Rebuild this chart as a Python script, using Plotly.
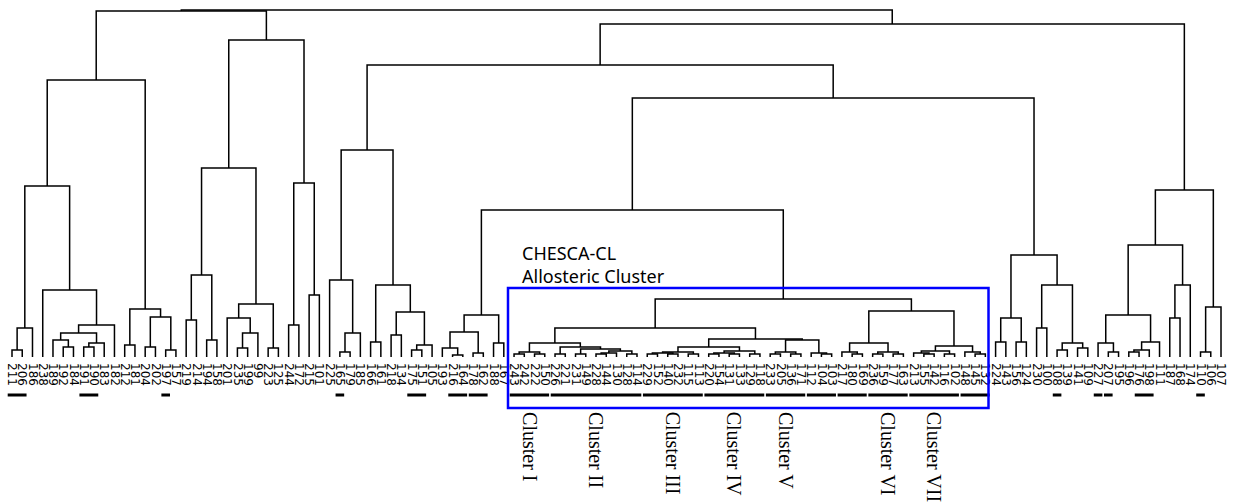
import plotly.graph_objects as go

# ---------------- data ----------------
leaf_labels = [
    "211", "206", "186", "238", "189", "192", "184", "191", "190", "183",
    "182", "212", "181", "204", "202", "197", "157", "219", "214", "194",
    "158", "201", "235", "199", "99", "223", "125", "244", "172", "215",
    "101", "225", "165", "179", "185", "166", "161", "218", "134", "175",
    "151", "105", "193", "216", "164", "178", "162", "188", "167", "243",
    "242", "222", "150", "226", "221", "231", "149", "228", "144", "130",
    "128", "114", "229", "152", "140", "232", "115", "113", "220", "154",
    "131", "133", "129", "118", "233", "205", "136", "171", "112", "104",
    "103", "217", "180", "169", "236", "159", "177", "163", "213", "155",
    "142", "116", "102", "148", "145", "132", "224", "143", "156", "124",
    "230", "100", "108", "139", "141", "109", "227", "207", "195", "196",
    "176", "198", "111", "187", "168", "174", "110", "106", "107",
]

# merges (children before parents); heights in dendrogram distance units
node_names = [
    # group A
    "n1", "n2", "a", "b", "c", "d", "X", "Y", "Z", "W", "e", "f", "g", "hh", "ii", "A",
    # group B
    "j", "k", "l", "m", "nn", "o", "p", "q", "r", "s", "t", "u", "B",
    # group C
    "v", "w", "cc", "x1", "x2", "x3", "x4", "x5", "x6", "C",
    # group D
    "y1", "y2", "y3", "y4", "y5", "D",
    # group E (allosteric cluster)
    "z1", "z2", "z3", "a1", "a2", "a3", "a4", "a5", "a6", "a7", "a8", "cl12",
    "c1", "c2", "c3", "c4", "c5", "d1", "d2", "d3", "d4", "d5", "cl34",
    "e1", "e2", "e3", "f1", "f2", "g5", "h5", "cl15",
    "i1", "i2", "j1", "j2", "j3", "k6", "l1", "l2", "l3", "l4", "m1", "m2", "m3",
    "n7", "E", "DE",
    # group F
    "o1", "o2", "o3", "q1", "p1", "p2", "p3", "qq", "F", "DEF", "CDEF",
    # group G
    "r1", "r2", "r3", "r4", "r5", "r6", "s1", "s2", "G1", "t1", "t2", "G",
    # top
    "R", "L", "root",
]
left_children = [
    "211", "n1", "192", "189", "191", "c", "b", "X", "238", "n2", "212", "204", "197", "f", "e", "W",
    "219", "194", "j", "235", "m", "201", "223", "o", "l", "244", "215", "s", "r",
    "165", "v", "225", "166", "218", "175", "x3", "x2", "x1", "cc",
    "216", "193", "178", "y2", "188", "y4",
    "243", "222", "z1", "226", "231", "228", "a3", "128", "a4", "a2", "a1", "z3",
    "229", "140", "c1", "115", "c3", "220", "131", "d1", "129", "d3", "c5",
    "233", "136", "e1", "104", "112", "e3", "cl34", "cl12",
    "180", "217", "236", "177", "j1", "i2", "155", "213", "116", "l2", "145", "148", "l4",
    "k6", "cl15", "D",
    "224", "156", "o1", "230", "108", "141", "p1", "q1", "o3", "DE", "C",
    "207", "227", "196", "r3", "r4", "r2", "187", "s1", "r6", "110", "t1", "G1",
    "CDEF", "A", "L",
]
right_children = [
    "206", "186", "184", "a", "190", "183", "d", "182", "Y", "Z", "181", "202", "157", "g", "hh", "ii",
    "214", "158", "k", "199", "99", "nn", "125", "p", "q", "172", "101", "t", "u",
    "179", "185", "w", "161", "134", "151", "105", "x4", "x5", "x6",
    "164", "y1", "162", "y3", "167", "y5",
    "242", "150", "z2", "221", "149", "144", "130", "114", "a5", "a6", "a7", "a8",
    "152", "232", "c2", "113", "c4", "154", "133", "d2", "118", "d4", "d5",
    "205", "171", "e2", "103", "f1", "f2", "g5", "h5",
    "169", "i1", "159", "163", "j2", "j3", "142", "l1", "102", "l3", "132", "m1", "m2",
    "m3", "n7", "E",
    "143", "124", "o2", "100", "139", "109", "p2", "p3", "qq", "F", "DEF",
    "195", "r1", "176", "198", "111", "r5", "168", "174", "s2", "106", "107", "t2",
    "G", "B", "R",
]
merge_heights = [
    7, 29, 10, 17, 10, 14, 24, 32, 67, 171, 12, 10, 7, 40, 48, 277,
    37, 17, 82, 9, 24, 39, 9, 53, 189, 32, 62, 174, 317,
    5, 24, 77, 15, 22, 7, 12, 45, 72, 207,
    2, 9, 4, 25, 14, 42,
    3, 3, 5, 3, 3, 3, 4, 3, 6, 8, 10, 14,
    3, 3, 4, 3, 5, 3, 3, 4, 3, 6, 10,
    3, 3, 5, 3, 4, 17, 18, 29,
    3, 5, 3, 3, 5, 14, 3, 4, 3, 6, 3, 5, 11,
    46, 58, 147,
    15, 15, 39, 29, 7, 9, 14, 72, 102, 259, 292,
    5, 14, 5, 7, 15, 42, 39, 72, 112, 5, 50, 167,
    333, 346, 347,
]

# marked (underlined) leaf groups
underline_groups = [
    ("211", "206"), ("191", "190"), ("197", "197"), ("165", "165"), ("175", "151"),
    ("216", "164"), ("178", "162"),
    ("243", "150"), ("226", "114"), ("229", "113"), ("220", "118"), ("233", "171"),
    ("112", "103"), ("217", "169"), ("236", "163"), ("213", "102"), ("148", "132"),
    ("108", "108"), ("227", "227"), ("207", "207"), ("176", "198"), ("110", "110"),
]
cluster_names = ["Cluster I", "Cluster II", "Cluster III", "Cluster IV",
                 "Cluster V", "Cluster VI", "Cluster VII"]
cluster_spans = [("243", "150"), ("226", "114"), ("229", "113"), ("220", "118"),
                 ("233", "171"), ("236", "163"), ("213", "102")]

# ---------------- layout constants ----------------
W, H = 1233, 504
PLOT_H = 357                 # pixel height of plot area (leaf baseline)
X0, X1 = -1.171, 119.17      # x range so leaves span the width
Y_TOP = 357

# ---------------- build dendrogram coordinates ----------------
pos_x = {lab: i for i, lab in enumerate(leaf_labels)}
pos_h = {lab: 0.0 for lab in leaf_labels}
xs, ys = [], []
for name, lc, rc, h in zip(node_names, left_children, right_children, merge_heights):
    xl, hl = pos_x[lc], pos_h[lc]
    xr, hr = pos_x[rc], pos_h[rc]
    xs += [xl, xl, xr, xr, None]
    ys += [hl, h, h, hr, None]
    pos_x[name] = (xl + xr) / 2
    pos_h[name] = h

fig = go.Figure()
fig.add_trace(go.Scatter(x=xs, y=ys, mode="lines",
                         line=dict(color="black", width=1.5),
                         hoverinfo="skip", showlegend=False))


def paper_x(v):
    return (v - X0) / (X1 - X0)


def paper_y(px):
    return (PLOT_H - px) / PLOT_H


shapes = []
for a, b in underline_groups:
    shapes.append(dict(type="line", xref="paper", yref="paper",
                       x0=paper_x(pos_x[a] - 0.42), x1=paper_x(pos_x[b] + 0.42),
                       y0=paper_y(395), y1=paper_y(395),
                       line=dict(color="black", width=3)))
# blue highlight box
shapes.append(dict(type="rect", xref="paper", yref="paper",
                   x0=508 / W, x1=988.5 / W, y0=paper_y(408), y1=paper_y(288),
                   line=dict(color="#0000ff", width=2.5), fillcolor="rgba(0,0,0,0)"))

annotations = []
for name, (a, b) in zip(cluster_names, cluster_spans):
    cx = (pos_x[a] + pos_x[b]) / 2
    annotations.append(dict(x=paper_x(cx), y=paper_y(410), xref="paper", yref="paper",
                            text=name, textangle=90, showarrow=False,
                            xanchor="center", yanchor="top",
                            font=dict(family="Liberation Serif", size=20, color="black")))
annotations.append(dict(x=520 / W, y=paper_y(253), xref="paper", yref="paper",
                        text="CHESCA-CL", showarrow=False, xanchor="left", yanchor="middle",
                        font=dict(family="Noto Sans", size=18, color="black")))
annotations.append(dict(x=520 / W, y=paper_y(276), xref="paper", yref="paper",
                        text="Allosteric Cluster", showarrow=False, xanchor="left",
                        yanchor="middle",
                        font=dict(family="Noto Sans", size=18, color="black")))

fig.update_layout(
    width=W, height=H,
    margin=dict(l=0, r=0, t=0, b=H - PLOT_H, pad=0),
    paper_bgcolor="white", plot_bgcolor="white",
    xaxis=dict(range=[X0, X1], tickmode="array", tickvals=list(range(len(leaf_labels))),
               ticktext=leaf_labels, tickangle=90, ticks="", showgrid=False,
               zeroline=False, showline=False, fixedrange=True, ticklabelstandoff=5,
               tickfont=dict(family="DejaVu Sans", size=12, color="black")),
    yaxis=dict(range=[0, Y_TOP], visible=False, fixedrange=True),
    shapes=shapes, annotations=annotations,
    showlegend=False,
)

fig.write_html("out.html")
